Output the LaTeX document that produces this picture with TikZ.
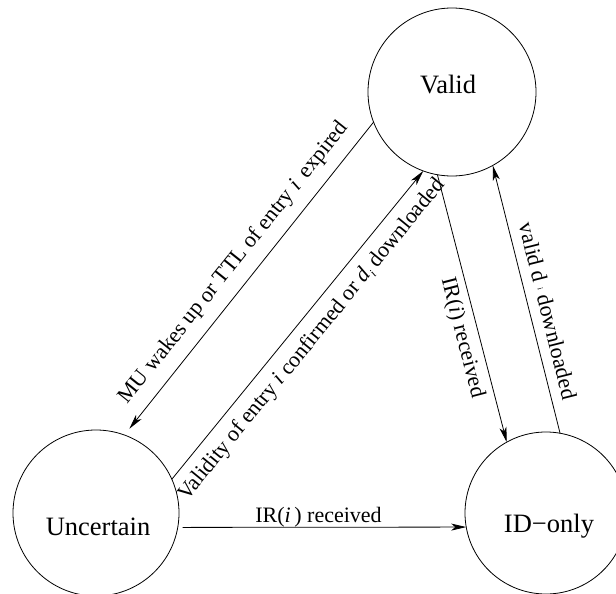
\documentclass[tikz,border=0pt]{standalone}
\usepackage{fontspec}
\setmainfont{Liberation Serif}
\usetikzlibrary{arrows.meta}
\begin{document}
\begin{tikzpicture}[x=1pt,y=-1pt,
  state/.style={circle,draw,line width=0.8pt,inner sep=0pt,outer sep=0pt},
  statetext/.style={font=\fontsize{26.5}{30}\selectfont,anchor=base,inner sep=0pt},
  lbl/.style={font=\fontsize{22}{24}\selectfont,inner sep=0pt},
  edge/.style={line width=0.8pt,-{Stealth[length=15pt,width=7pt,inset=4pt]}}]
\useasboundingbox (0,0) rectangle (616,594);
\node[state,minimum size=168pt] (V) at (452,92) {};
\node[state,minimum size=166pt] (U) at (96,513) {};
\node[state,minimum size=162pt] (I) at (546,513) {};
\node[statetext] (tV) at (448,94) {Valid};
\node[statetext] (tU) at (98,535) {Uncertain};
\node[statetext] (tI) at (549,532) {ID−only};
\draw[edge,shorten >=8pt] (V.201) -- (U.70);
\draw[edge] (U.24) -- (V.250);
\draw[edge] (V.260) -- (I.119);
\draw[edge] (I.80) -- (V.299);
\draw[edge,shorten <=5pt] (U.-10.4) -- (I.190.67);
\node[lbl,rotate=51.4] (l1) at (234,263) {MU wakes up or TTL of entry \textit{i}\, expired};
\node[lbl,rotate=50.8] (l2) at (312,340) {Validity of entry \textit{i} confirmed or \textit{d}\raisebox{-4pt}{\fontsize{12}{12}\selectfont\textit{i}} downloaded};
\node[lbl,rotate=-75.5] (l3) at (462,338) {IR(\textit{i}) received};
\node[lbl,rotate=-75.9] (l4) at (548,311) {valid d \raisebox{3pt}{\fontsize{8}{8}\selectfont i} downloaded};
\node[lbl,anchor=base] (l5) at (318.5,522) {IR(\textit{i}\,) received};
\end{tikzpicture}
\end{document}
